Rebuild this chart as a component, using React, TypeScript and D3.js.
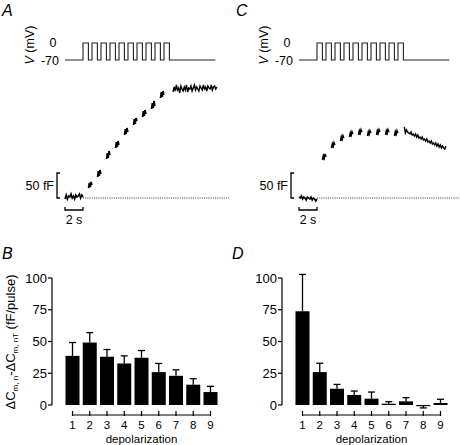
import React from "react";
import * as d3 from "d3";

// ---------- data ----------
const categories = [1, 2, 3, 4, 5, 6, 7, 8, 9];
const yTicks = [0, 25, 50, 75, 100];
const meansB = [38.7, 49.2, 38, 32.7, 37.2, 25.9, 23, 16, 10.2];
const errB = [10.5, 7.8, 5.7, 6, 5.7, 6.8, 4.7, 4.7, 4.5];
const meansD = [73.8, 25.9, 12.8, 7.9, 5, 1, 2.9, -0.6, 1.6];
const errD = [29, 7, 3.4, 3.1, 5.2, 1.6, 2.9, 1.7, 2.9];

// voltage protocol (s, mV)
const pulseStart = 2;
const pulseCount = 10;
const pulsePeriod = 1.0;
const pulseWidth = 0.6;
const traceEnd = 16.7;
const vHold = -70;
const vStep = 0;

// capacitance traces (fF)
const baselineA = [-2, 6, -2, 4, 2, 8, 0, 4, -2, 6, 2, 4, 8, 0, 6, 2];
const segmentsA = [
  [20, 30, 22, 32, 26],
  [42, 54, 44, 56, 48],
  [78, 90, 80, 94, 86],
  [100, 112, 102, 114, 106],
  [126, 138, 128, 140, 132],
  [146, 158, 148, 160, 154],
  [162, 174, 164, 176, 168],
  [178, 190, 180, 194, 184],
  [200, 212, 202, 214, 206],
];
const plateauStartA = 12.0;
const plateauA = [212, 222, 214, 226, 216, 220, 210, 224, 218, 214, 222, 216, 226, 212, 220, 218, 224, 214, 220, 226, 216, 222, 218, 214, 224, 220, 216, 226, 218, 222, 214, 224, 220, 218, 226, 216, 222, 224, 218, 222];

const baselineC = [2, 0, 4, -2, 2, 0, -4, 2, 0, -2, 2, -4, 0, -2, -6, -2];
const segmentsC = [
  [76, 84, 80, 88, 82],
  [100, 108, 104, 110, 106],
  [114, 122, 118, 124, 120],
  [122, 130, 126, 132, 128],
  [126, 134, 130, 136, 132],
  [124, 132, 128, 134, 130],
  [126, 134, 130, 136, 132],
  [126, 134, 130, 136, 132],
  [124, 132, 128, 134, 130],
];
const plateauStartC = 11.7;
const plateauC = [142, 130, 136, 132, 130, 128, 132, 126, 128, 124, 128, 122, 126, 120, 122, 118, 122, 116, 118, 114, 118, 112, 114, 110, 114, 108, 110, 106, 110, 104, 108, 102, 106, 100, 104, 100, 98, 104];

const sampleStep = 0.125;

// ---------- helpers ----------
const FONT = "'Liberation Sans', Arial, Helvetica, sans-serif";

function pulsePoints(): [number, number][] {
  const pts: [number, number][] = [[0, vHold], [pulseStart, vHold]];
  for (let k = 0; k < pulseCount; k++) {
    const t0 = pulseStart + k * pulsePeriod;
    pts.push([t0, vHold], [t0, vStep], [t0 + pulseWidth, vStep], [t0 + pulseWidth, vHold]);
  }
  pts.push([traceEnd, vHold]);
  return pts;
}

type TraceProps = {
  x0: number;
  letter: string;
  baseline: number[];
  segments: number[][];
  plateauStart: number;
  plateau: number[];
  dotEnd: number;
};

function TracePanel({ x0, letter, baseline, segments, plateauStart, plateau, dotEnd }: TraceProps) {
  const t = d3.scaleLinear().domain([0, 2]).range([x0, x0 + 18]);
  const v = d3.scaleLinear().domain([vHold, vStep]).range([60, 43]);
  const c = d3.scaleLinear().domain([0, 50]).range([198, 173]);
  const vLine = d3.line<[number, number]>().x((d) => t(d[0])).y((d) => v(d[1]));
  const cLine = d3.line<[number, number]>().x((d) => t(d[0])).y((d) => c(d[1]));

  const basePts: [number, number][] = baseline.map((val, i) => [(i * pulseStart) / (baseline.length - 1), val]);
  const segPaths = segments.map((seg, k) => {
    const ts = pulseStart + k * pulsePeriod + pulseWidth + 0.02;
    const te = pulseStart + (k + 1) * pulsePeriod - 0.02;
    const pts: [number, number][] = seg.map((val, i) => [ts + ((te - ts) * i) / (seg.length - 1), val]);
    return cLine(pts);
  });
  const platPts: [number, number][] = plateau.map((val, i) => [plateauStart + i * sampleStep, val]);

  return (
    <g>
      <text x={x0 - 63} y={16} fontSize={16} fontStyle="italic" fontFamily={FONT}>{letter}</text>
      <text transform={`translate(${x0 - 31},45) rotate(-90)`} textAnchor="middle" fontSize={12.5} fontFamily={FONT}>
        <tspan fontStyle="italic">V</tspan> (mV)
      </text>
      <text x={x0 - 12} y={v(vStep) + 4} textAnchor="middle" fontSize={12.5} fontFamily={FONT}>0</text>
      <text x={x0 - 6} y={v(vHold) + 4.5} textAnchor="end" fontSize={12.5} fontFamily={FONT}>-70</text>
      <path d={vLine(pulsePoints()) || ""} fill="none" stroke="#222" strokeWidth={1.1} />

      {/* dotted zero line */}
      <line x1={t(pulseStart)} x2={t(dotEnd)} y1={c(0)} y2={c(0)} stroke="#333" strokeWidth={1} strokeDasharray="1,1.2" />
      {/* capacitance trace */}
      <path d={cLine(basePts) || ""} fill="none" stroke="#000" strokeWidth={1.6} />
      {segPaths.map((d, i) => (
        <path key={i} d={d || ""} fill="none" stroke="#000" strokeWidth={1.8} />
      ))}
      <path d={cLine(platPts) || ""} fill="none" stroke="#000" strokeWidth={1.4} />

      {/* scale bars */}
      <path d={`M${x0 - 5},${c(50)}H${x0 - 8}V${c(0)}H${x0 - 5}`} fill="none" stroke="#000" strokeWidth={1.3} />
      <text x={x0 - 11} y={c(25) + 4.5} textAnchor="end" fontSize={12.5} fontFamily={FONT}>50 fF</text>
      <path d={`M${t(0)},${207}V${210}H${t(2)}V${207}`} fill="none" stroke="#000" strokeWidth={1.3} />
      <text x={t(1)} y={224} textAnchor="middle" fontSize={12.5} fontFamily={FONT}>2 s</text>
    </g>
  );
}

type BarProps = {
  axisX: number;
  letter: string;
  means: number[];
  errs: number[];
  showYLabel: boolean;
};

function BarPanel({ axisX, letter, means, errs, showYLabel }: BarProps) {
  const x = d3.scalePoint<number>().domain(categories).range([axisX + 20.5, axisX + 158.5]);
  const y = d3.scaleLinear().domain([0, 100]).range([405, 278]);
  const bw = 14;
  const axisY = 415;
  return (
    <g fontFamily={FONT}>
      <text x={axisX - 50} y={259} fontSize={16} fontStyle="italic">{letter}</text>
      {/* y axis */}
      <line x1={axisX} x2={axisX} y1={y(100)} y2={y(0)} stroke="#000" strokeWidth={1.2} />
      {yTicks.map((tk) => (
        <g key={tk}>
          <line x1={axisX - 4} x2={axisX} y1={y(tk)} y2={y(tk)} stroke="#000" strokeWidth={1.2} />
          <text x={axisX - 5} y={y(tk) + 4.5} textAnchor="end" fontSize={13}>{tk}</text>
        </g>
      ))}
      {showYLabel && (
        <text transform={`translate(${axisX - 37},342) rotate(-90)`} textAnchor="middle" fontSize={13}>
          ΔC<tspan fontSize={8} dy={3}>m, n</tspan>
          <tspan dy={-3}>-ΔC</tspan>
          <tspan fontSize={8} dy={3}>m, nT</tspan>
          <tspan dy={-3}> (fF/pulse)</tspan>
        </text>
      )}
      {/* bars */}
      {categories.map((cat, i) => {
        const m = means[i];
        const e = errs[i];
        const cx = x(cat) as number;
        const top = y(Math.max(m, 0));
        const bot = y(Math.min(m, 0));
        const eEnd = m >= 0 ? y(m + e) : y(m - e);
        return (
          <g key={cat}>
            <rect x={cx - bw / 2} y={top} width={bw} height={Math.max(bot - top, 1.2)} fill="#000" />
            <line x1={cx} x2={cx} y1={m >= 0 ? top : bot} y2={eEnd} stroke="#000" strokeWidth={1.3} />
            <line x1={cx - 3.5} x2={cx + 3.5} y1={eEnd} y2={eEnd} stroke="#000" strokeWidth={1.3} />
          </g>
        );
      })}
      {/* x axis */}
      <line x1={x(1) as number} x2={x(9) as number} y1={axisY} y2={axisY} stroke="#000" strokeWidth={1.2} />
      {categories.map((cat) => (
        <g key={cat}>
          <line x1={x(cat) as number} x2={x(cat) as number} y1={axisY - 4} y2={axisY + 1} stroke="#000" strokeWidth={1.2} />
          <text x={x(cat) as number} y={429} textAnchor="middle" fontSize={11.5}>{cat}</text>
        </g>
      ))}
      <text x={((x(1) as number) + (x(9) as number)) / 2} y={443} textAnchor="middle" fontSize={11.5}>depolarization</text>
    </g>
  );
}

export default function App() {
  return (
    <svg width={460} height={445} style={{ position: "absolute", left: 0, top: 0, background: "#fff" }}>
      <TracePanel x0={65} letter="A" baseline={baselineA} segments={segmentsA} plateauStart={plateauStartA} plateau={plateauA} dotEnd={18.3} />
      <TracePanel x0={299} letter="C" baseline={baselineC} segments={segmentsC} plateauStart={plateauStartC} plateau={plateauC} dotEnd={17.9} />
      <BarPanel axisX={52} letter="B" means={meansB} errs={errB} showYLabel={true} />
      <BarPanel axisX={282} letter="D" means={meansD} errs={errD} showYLabel={false} />
    </svg>
  );
}
